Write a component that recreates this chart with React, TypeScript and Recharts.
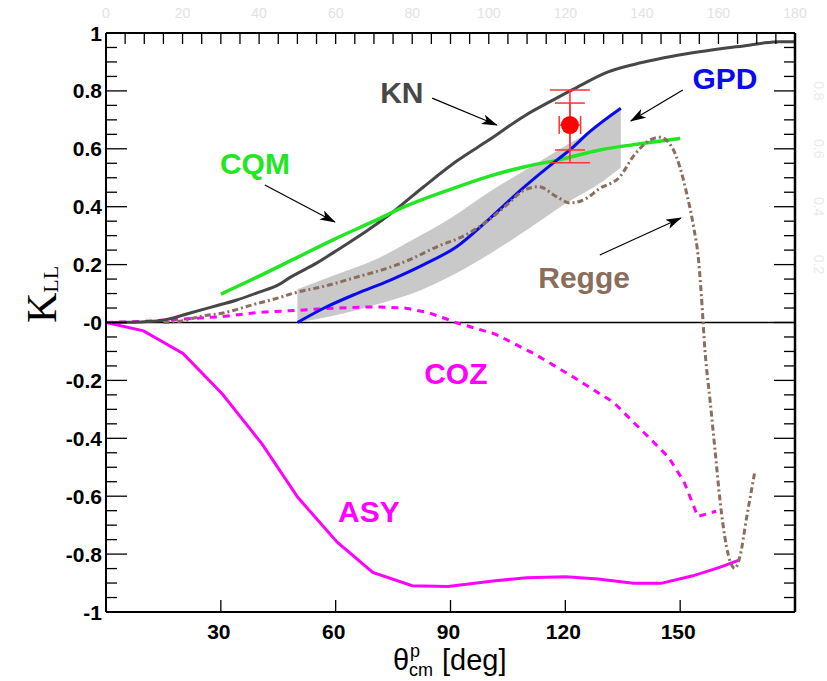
import React from 'react';
import {
  ComposedChart, Line, Area, Scatter, XAxis, YAxis, ReferenceLine, ErrorBar,
} from 'recharts';

// ---------- data (theta in deg, K_LL) ----------
const knTheta = [0, 5, 10, 15, 22, 28, 34, 40, 45, 48, 55, 61, 68, 74, 83, 92, 100, 109, 117, 122, 131, 140, 148, 155, 162, 168, 172, 176, 180];
const knK = [0, 0.001, 0.003, 0.008, 0.033, 0.055, 0.077, 0.105, 0.13, 0.155, 0.205, 0.255, 0.315, 0.372, 0.469, 0.561, 0.63, 0.711, 0.77, 0.805, 0.865, 0.898, 0.92, 0.935, 0.948, 0.958, 0.966, 0.97, 0.97];

const cqmTheta = [30, 40, 50, 60, 70, 78, 90, 100, 110, 118, 129, 140, 150];
const cqmK = [0.098, 0.16, 0.225, 0.29, 0.35, 0.4, 0.46, 0.505, 0.54, 0.561, 0.596, 0.618, 0.636];

const gpdTheta = [50, 57, 65.5, 74, 83, 91.6, 100.3, 109, 117.7, 121.2, 126.4, 134.5];
const gpdK = [0, 0.05, 0.1, 0.145, 0.2, 0.262, 0.36, 0.465, 0.56, 0.596, 0.659, 0.74];

const bandTheta = [50, 60, 70, 80, 90, 100, 110, 120, 130, 134.5];
const bandLow = [0, 0.025, 0.06, 0.1, 0.16, 0.235, 0.32, 0.41, 0.49, 0.535];
const bandHigh = [0.115, 0.165, 0.215, 0.285, 0.36, 0.45, 0.53, 0.61, 0.69, 0.74];

const reggeTheta = [15, 20, 25, 31, 38, 45, 50, 57, 65, 74, 79, 87, 93, 100, 105, 109, 113, 117.7, 121.2, 125, 129, 134.3, 137.7, 142.1, 144.7, 147.8, 149.9, 151.7, 153.5, 154.8, 155.5, 156.5, 157.8, 159.1, 160.4, 162.1, 164.3, 165.6, 167.4, 169.5];
const reggeK = [0, 0.006, 0.022, 0.034, 0.06, 0.085, 0.105, 0.125, 0.155, 0.19, 0.215, 0.265, 0.296, 0.354, 0.41, 0.455, 0.469, 0.435, 0.413, 0.425, 0.463, 0.504, 0.573, 0.63, 0.64, 0.607, 0.538, 0.446, 0.331, 0.216, 0.1, -0.1, -0.268, -0.44, -0.613, -0.774, -0.849, -0.809, -0.671, -0.515];

const cozTheta = [0, 10, 20, 30, 40, 50, 60, 70, 78, 84, 89, 91.3, 101.7, 112, 122.3, 132.6, 140.9, 147, 151, 154.6, 159.4];
const cozK = [0, 0.004, 0.012, 0.02, 0.035, 0.042, 0.05, 0.054, 0.05, 0.035, 0.012, 0, -0.04, -0.109, -0.19, -0.276, -0.385, -0.466, -0.55, -0.67, -0.652];

const asyTheta = [0, 9.8, 20.1, 30.4, 40.8, 50.1, 60.4, 69.7, 80, 89.3, 101.7, 109.9, 120.2, 128.5, 137.8, 145, 153.3, 160.3, 165.6];
const asyK = [0, -0.029, -0.107, -0.247, -0.42, -0.604, -0.759, -0.863, -0.909, -0.912, -0.892, -0.882, -0.878, -0.886, -0.901, -0.901, -0.875, -0.846, -0.82];

// experimental point
const expTheta = [121.2];
const expK = [0.682];
const expTotErr = [[0.13, 0.121]];
const expStatErr = [[0.086, 0.076]];
const expThetaErr = [2.8];

// annotation labels
const labelNames = ['KN', 'GPD', 'CQM', 'Regge', 'COZ', 'ASY'];
const labelTheta = [77.3, 161.7, 38.9, 124.9, 91.4, 68.7];
const labelK = [0.796, 0.845, 0.551, 0.157, -0.174, -0.651];
const labelColors = ['#474747', '#0a0aee', '#22e622', '#8a6d5b', '#ff00ff', '#ff00ff'];

// arrows [theta, K] start -> end
const arrowStart = [[85.2, 0.775], [150.7, 0.803], [41.5, 0.475], [129.0, 0.233]];
const arrowEnd = [[102.1, 0.682], [137.1, 0.696], [59.8, 0.347], [150.2, 0.361]];

// axes ticks
const yTicks = [-1, -0.95, -0.9, -0.85, -0.8, -0.75, -0.7, -0.65, -0.6, -0.55, -0.5, -0.45, -0.4, -0.35, -0.3, -0.25, -0.2, -0.15, -0.1, -0.05, 0, 0.05, 0.1, 0.15, 0.2, 0.25, 0.3, 0.35, 0.4, 0.45, 0.5, 0.55, 0.6, 0.65, 0.7, 0.75, 0.8, 0.85, 0.9, 0.95, 1];
const yMajor = [1, 0.8, 0.6, 0.4, 0.2, 0, -0.2, -0.4, -0.6, -0.8, -1];
const yMajorLabels = ['1', '0.8', '0.6', '0.4', '0.2', '-0', '-0.2', '-0.4', '-0.6', '-0.8', '-1'];
const yRightLabelVals = [0.8, 0.6, 0.4, 0.2];
const yRightLabels = ['0.8', '0.6', '0.4', '0.2'];
const xBottomTicks = [30, 60, 90, 120, 150];
const xBottomLabels = ['30', '60', '90', '120', '150'];
const xTopTicks = [0, 5, 10, 15, 20, 25, 30, 35, 40, 45, 50, 55, 60, 65, 70, 75, 80, 85, 90, 95, 100, 105, 110, 115, 120, 125, 130, 135, 140, 145, 150, 155, 160, 165, 170, 175, 180];
const xTopLabelVals = [0, 20, 40, 60, 80, 100, 120, 140, 160, 180];
const xTopLabels = ['0', '20', '40', '60', '80', '100', '120', '140', '160', '180'];

const pts = (xs: number[], ys: number[]) => xs.map((x, i) => ({ x, y: ys[i] }));
const knData = pts(knTheta, knK);
const cqmData = pts(cqmTheta, cqmK);
const gpdData = pts(gpdTheta, gpdK);
const reggeData = pts(reggeTheta, reggeK);
const cozData = pts(cozTheta, cozK);
const asyData = pts(asyTheta, asyK);
const bandData = bandTheta.map((x, i) => ({ x, range: [bandLow[i], bandHigh[i]] }));
const expData = expTheta.map((x, i) => ({ x, y: expK[i], tot: expTotErr[i], stat: expStatErr[i] }));
const expXErrData = [
  { x: expTheta[0] - expThetaErr[0], y: expK[0] },
  { x: expTheta[0] + expThetaErr[0], y: expK[0] },
];
const labelData = labelNames.map((t, i) => ({ x: labelTheta[i], y: labelK[i], text: t, color: labelColors[i] }));
const arrowData = arrowStart.map((s, i) => [{ x: s[0], y: s[1] }, { x: arrowEnd[i][0], y: arrowEnd[i][1] }]);

const SANS = '"Liberation Sans", Arial, Helvetica, sans-serif';
const SERIF = '"Liberation Serif", "Times New Roman", serif';
const near = (a: number, b: number) => Math.abs(a - b) < 1e-6;

const LeftTick = (p: any) => {
  const v = p.payload.value;
  const mi = yMajor.findIndex((m) => near(m, v));
  const major = mi >= 0;
  return (
    <g>
      <line x1={p.x} x2={p.x + (major ? 21 : 11)} y1={p.y} y2={p.y} stroke="#000" strokeWidth={1.3} />
      {major && (
        <text x={p.x - 4} y={p.y} dy="0.36em" textAnchor="end" fontFamily={SANS} fontWeight="bold" fontSize={21} fill="#000">
          {yMajorLabels[mi]}
        </text>
      )}
    </g>
  );
};

const RightTick = (p: any) => {
  const v = p.payload.value;
  const major = yMajor.some((m) => near(m, v));
  const li = yRightLabelVals.findIndex((m) => near(m, v));
  return (
    <g>
      <line x1={p.x} x2={p.x - (major ? 21 : 11)} y1={p.y} y2={p.y} stroke="#000" strokeWidth={1.3} />
      {li >= 0 && (
        <text x={p.x + 24} y={p.y} textAnchor="middle" dy="0.36em" transform={`rotate(90, ${p.x + 24}, ${p.y})`} fontFamily={SANS} fontSize={14} fill="#ebebeb">
          {yRightLabels[li]}
        </text>
      )}
    </g>
  );
};

const BottomTick = (p: any) => {
  const i = xBottomTicks.findIndex((m) => near(m, p.payload.value));
  return (
    <g>
      <line x1={p.x} x2={p.x} y1={p.y} y2={p.y - 12} stroke="#000" strokeWidth={1.3} />
      <text x={p.x - 2} y={p.y + 27} textAnchor="middle" fontFamily={SANS} fontWeight="bold" fontSize={21} fill="#000">
        {i >= 0 ? xBottomLabels[i] : ''}
      </text>
    </g>
  );
};

const TopTick = (p: any) => {
  const i = xTopLabelVals.findIndex((m) => near(m, p.payload.value));
  return (
    <g>
      <line x1={p.x} x2={p.x} y1={p.y} y2={p.y + 11} stroke="#000" strokeWidth={1.3} />
      {i >= 0 && (
        <text x={p.x} y={p.y - 15} textAnchor="middle" fontFamily={SANS} fontSize={14} fill="#e2e2e2">
          {xTopLabels[i]}
        </text>
      )}
    </g>
  );
};

const YTitle = (p: any) => {
  const vb = p.viewBox;
  const x = vb.x + 56;
  const y = vb.y + 290;
  return (
    <text x={x} y={y} transform={`rotate(-90, ${x}, ${y})`} fontFamily={SERIF} fill="#000" textAnchor="start">
      <tspan fontSize={42}>K</tspan>
      <tspan fontSize={22} dy={2}>LL</tspan>
    </text>
  );
};

const XTitle = (p: any) => {
  const vb = p.viewBox;
  const x0 = vb.x + 287;
  const y0 = vb.y + 58;
  return (
    <text fontFamily={SANS} fill="#000">
      <tspan x={x0} y={y0} fontSize={29}>θ</tspan>
      <tspan x={x0 + 17} y={y0 - 13} fontSize={18}>p</tspan>
      <tspan x={x0 + 16} y={y0 + 6} fontSize={18}>cm</tspan>
      <tspan x={x0 + 49} y={y0} fontSize={29}>[deg]</tspan>
    </text>
  );
};

const LabelShape = (p: any) => (
  <text x={p.cx} y={p.cy} dy="0.36em" textAnchor="middle" fontFamily={SANS} fontWeight="bold" fontSize={30} fill={p.payload.color}>
    {p.payload.text}
  </text>
);

const PointShape = (p: any) => <circle cx={p.cx} cy={p.cy} r={9} fill="#ff0000" />;

const CapDot = (p: any) => (
  <line key={`cap${p.index}`} x1={p.cx} x2={p.cx} y1={p.cy - 9} y2={p.cy + 9} stroke="#ff3333" strokeWidth={1.5} />
);

export default function App() {
  return (
    <div style={{ position: 'absolute', left: 0, top: 0, width: 827, height: 681, background: '#fff' }}>
      <svg width={0} height={0} style={{ position: 'absolute' }}>
        <defs>
          <marker id="arrowHead" markerUnits="userSpaceOnUse" markerWidth={16} markerHeight={10} refX={15} refY={5} orient="auto">
            <path d="M0,0 L16,5 L0,10 L4,5 Z" fill="#000" />
          </marker>
        </defs>
      </svg>
      <ComposedChart width={827} height={681} margin={{ top: 0, right: 0, bottom: 0, left: 0 }}>
        <XAxis xAxisId={0} dataKey="x" type="number" domain={[0, 180]} ticks={xBottomTicks} interval={0}
          orientation="bottom" height={69} tickSize={0} tickMargin={0} tickLine={false}
          axisLine={{ stroke: '#000', strokeWidth: 2 }} tick={<BottomTick />} allowDataOverflow
          label={<XTitle />} />
        <XAxis xAxisId="top" dataKey="x" type="number" domain={[0, 180]} ticks={xTopTicks} interval={0}
          orientation="top" height={33} tickSize={0} tickMargin={0} tickLine={false}
          axisLine={{ stroke: '#000', strokeWidth: 2 }} tick={<TopTick />} allowDataOverflow />
        <YAxis yAxisId={0} type="number" domain={[-1, 1]} ticks={yTicks} interval={0} width={106}
          tickSize={0} tickMargin={0} tickLine={false} axisLine={{ stroke: '#000', strokeWidth: 2 }}
          tick={<LeftTick />} allowDataOverflow label={<YTitle />} />
        <YAxis yAxisId="right" orientation="right" type="number" domain={[-1, 1]} ticks={yTicks} interval={0} width={32}
          tickSize={0} tickMargin={0} tickLine={false} axisLine={{ stroke: '#000', strokeWidth: 2.5 }}
          tick={<RightTick />} allowDataOverflow />

        <Area data={bandData} dataKey="range" type="monotone" fill="#c9c9c9" fillOpacity={1} stroke="none" isAnimationActive={false} />
        <ReferenceLine y={0} stroke="#000" strokeWidth={1.3} />

        <Line data={asyData} dataKey="y" type="linear" stroke="#ff00ff" strokeWidth={3} dot={false} activeDot={false} isAnimationActive={false} />
        <Line data={cozData} dataKey="y" type="linear" stroke="#ff00ff" strokeWidth={3} strokeDasharray="7 6" dot={false} activeDot={false} isAnimationActive={false} />
        <Line data={knData} dataKey="y" type="monotone" stroke="#474747" strokeWidth={3} dot={false} activeDot={false} isAnimationActive={false} />
        <Line data={cqmData} dataKey="y" type="monotone" stroke="#22e622" strokeWidth={3.5} dot={false} activeDot={false} isAnimationActive={false} />
        <Line data={gpdData} dataKey="y" type="monotone" stroke="#0a0aee" strokeWidth={3} dot={false} activeDot={false} isAnimationActive={false} />
        <Line data={reggeData} dataKey="y" type="monotone" stroke="#8a6d5b" strokeWidth={3} strokeDasharray="6 3 2 3" dot={false} activeDot={false} isAnimationActive={false} />

        {arrowData.map((d, i) => (
          <Line key={`arr${i}`} data={d} dataKey="y" type="linear" stroke="#000" strokeWidth={1.2} dot={false} activeDot={false}
            markerEnd="url(#arrowHead)" isAnimationActive={false} />
        ))}

        <Scatter data={labelData} dataKey="y" shape={<LabelShape />} isAnimationActive={false} />

        <Line data={expXErrData} dataKey="y" type="linear" stroke="#ff3333" strokeWidth={1.5} dot={<CapDot />} activeDot={false} isAnimationActive={false} />

        <Scatter data={expData} dataKey="y" shape={<PointShape />} isAnimationActive={false}>
          <ErrorBar dataKey="tot" direction="y" width={20} stroke="#ff3333" strokeWidth={1.5} />
          <ErrorBar dataKey="stat" direction="y" width={15} stroke="#ff3333" strokeWidth={1.5} />
        </Scatter>
      </ComposedChart>
    </div>
  );
}
